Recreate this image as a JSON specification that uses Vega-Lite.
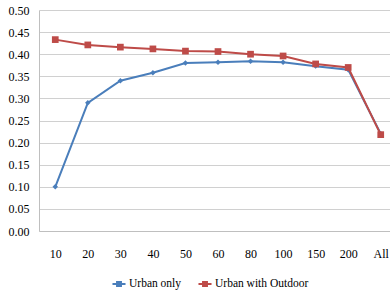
{
  "$schema": "https://vega.github.io/schema/vega-lite/v6.json",
  "width": 358,
  "height": 221,
  "autosize": "none",
  "padding": {"left": 39, "top": 10, "right": 0, "bottom": 67},
  "background": "white",
  "config": {
    "font": "Liberation Sans Narrow",
    "view": {"stroke": null},
    "axis": {"labelFont": "Liberation Sans Narrow", "labelFontSize": 12, "labelColor": "#000000"}
  },
  "data": {
    "values": [
      {"x": "10", "series": "Urban only", "v": 0.100},
      {"x": "20", "series": "Urban only", "v": 0.290},
      {"x": "30", "series": "Urban only", "v": 0.340},
      {"x": "40", "series": "Urban only", "v": 0.358},
      {"x": "50", "series": "Urban only", "v": 0.380},
      {"x": "60", "series": "Urban only", "v": 0.382},
      {"x": "80", "series": "Urban only", "v": 0.384},
      {"x": "100", "series": "Urban only", "v": 0.382},
      {"x": "150", "series": "Urban only", "v": 0.373},
      {"x": "200", "series": "Urban only", "v": 0.365},
      {"x": "All", "series": "Urban only", "v": 0.220},
      {"x": "10", "series": "Urban with Outdoor", "v": 0.433},
      {"x": "20", "series": "Urban with Outdoor", "v": 0.421},
      {"x": "30", "series": "Urban with Outdoor", "v": 0.416},
      {"x": "40", "series": "Urban with Outdoor", "v": 0.412},
      {"x": "50", "series": "Urban with Outdoor", "v": 0.407},
      {"x": "60", "series": "Urban with Outdoor", "v": 0.406},
      {"x": "80", "series": "Urban with Outdoor", "v": 0.400},
      {"x": "100", "series": "Urban with Outdoor", "v": 0.396},
      {"x": "150", "series": "Urban with Outdoor", "v": 0.378},
      {"x": "200", "series": "Urban with Outdoor", "v": 0.370},
      {"x": "All", "series": "Urban with Outdoor", "v": 0.218}
    ]
  },
  "encoding": {
    "x": {
      "field": "x", "type": "ordinal",
      "sort": ["10","20","30","40","50","60","80","100","150","200","All"],
      "scale": {"type": "point", "padding": 0.5},
      "axis": {"title": null, "labelAngle": 0, "ticks": false, "labelPadding": 17, "domainColor": "#BFBFBF", "grid": false}
    },
    "y": {
      "field": "v", "type": "quantitative",
      "scale": {"domain": [0, 0.5]},
      "axis": {"title": null, "values": [0,0.05,0.1,0.15,0.2,0.25,0.3,0.35,0.4,0.45,0.5], "format": ".2f", "ticks": false, "labelPadding": 10, "domainColor": "#BFBFBF", "gridColor": "#D0D0D0", "gridWidth": 1}
    },
    "color": {
      "field": "series", "type": "nominal",
      "scale": {"domain": ["Urban only", "Urban with Outdoor"], "range": ["#4A7EBB", "#BE4B48"]},
      "legend": {
        "title": null, "orient": "none", "direction": "horizontal",
        "legendX": 72, "legendY": 266,
        "symbolType": "M-1,0H1M-0.3,-0.3H0.3V0.3H-0.3Z",
        "symbolSize": 170, "symbolStrokeWidth": 2,
        "labelFontSize": 11.5, "labelFont": "Liberation Sans Narrow", "labelColor": "#000000",
        "columnPadding": 12, "labelOffset": 2
      }
    }
  },
  "layer": [
    {
      "transform": [{"filter": "datum.series === 'Urban only'"}],
      "layer": [
        {"mark": {"type": "line", "strokeWidth": 2}},
        {"mark": {"type": "point", "shape": "diamond", "filled": true, "size": 30, "opacity": 1}}
      ]
    },
    {
      "transform": [{"filter": "datum.series === 'Urban with Outdoor'"}],
      "layer": [
        {"mark": {"type": "line", "strokeWidth": 2}},
        {"mark": {"type": "point", "shape": "square", "filled": true, "size": 45, "opacity": 1}}
      ]
    }
  ]
}
